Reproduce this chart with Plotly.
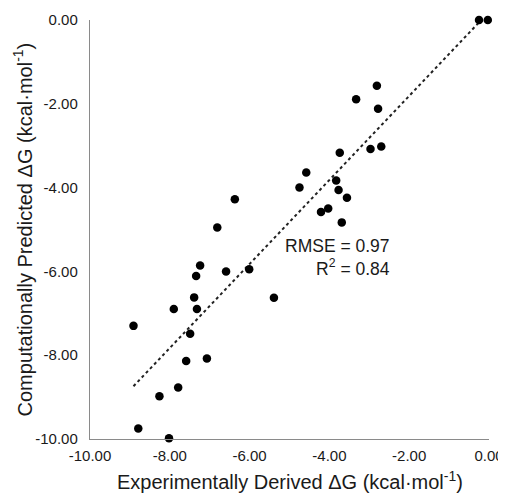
import numpy as np
import plotly.graph_objects as go

# Experimentally derived dG (kcal/mol) vs computationally predicted dG
exp_dg = [-0.25, -0.03, -2.81, -3.33, -2.78, -3.74, -2.97, -2.70, -4.58, -4.75,
          -3.83, -3.77, -3.56, -4.21, -4.03, -3.69, -5.39, -8.91, -7.90, -7.34,
          -7.24, -7.39, -7.32, -7.49, -7.59, -7.79, -8.26, -8.79, -8.02, -7.07,
          -6.37, -6.81, -6.59, -6.01]
pred_dg = [0.00, 0.00, -1.57, -1.89, -2.12, -3.17, -3.08, -3.02, -3.64, -4.00,
           -3.83, -4.06, -4.24, -4.58, -4.50, -4.83, -6.63, -7.30, -6.90, -6.11,
           -5.86, -6.62, -6.90, -7.49, -8.14, -8.77, -8.98, -9.75, -9.98, -8.08,
           -4.28, -4.95, -6.00, -5.95]

tick_vals = [-10, -8, -6, -4, -2, 0]
tick_text = ["-10.00", "-8.00", "-6.00", "-4.00", "-2.00", "0.00"]

x_title = "Experimentally Derived ΔG (kcal·mol<sup>-1</sup>)"
y_title = "Computationally Predicted ΔG (kcal·mol<sup>-1</sup>)"
stats_text = "RMSE = 0.97<br>R<sup>2</sup> = 0.84"

# Linear trendline (least squares) over the data range
slope, intercept = np.polyfit(exp_dg, pred_dg, 1)
fit_x = np.array([min(exp_dg), max(exp_dg)])
fit_y = slope * fit_x + intercept

FONT = "Liberation Sans, Arial, Helvetica, sans-serif"
TXT = "#1a1a1a"

fig = go.Figure()
fig.add_trace(go.Scatter(
    x=fit_x, y=fit_y, mode="lines",
    line=dict(color="#222222", width=2, dash="dot"),
    showlegend=False, hoverinfo="skip",
))
fig.add_trace(go.Scatter(
    x=exp_dg, y=pred_dg, mode="markers",
    marker=dict(color="black", size=8.5),
    cliponaxis=False, showlegend=False,
))

fig.add_annotation(
    x=-2.43, y=-5.68, xref="x", yref="y",
    text=stats_text, showarrow=False,
    xanchor="right", yanchor="middle", align="right",
    font=dict(family=FONT, size=17.5, color=TXT),
)
# axis titles
fig.add_annotation(
    x=0.5, y=-0.100, xref="paper", yref="paper",
    text=x_title, showarrow=False, xanchor="center", yanchor="middle",
    font=dict(family=FONT, size=20, color=TXT),
)
fig.add_annotation(
    x=-0.168, y=0.5, xref="paper", yref="paper",
    text=y_title, showarrow=False, xanchor="center", yanchor="middle",
    textangle=-90,
    font=dict(family=FONT, size=20, color=TXT),
)

axis_common = dict(
    range=[-10, 0], tickvals=tick_vals, ticktext=tick_text,
    showgrid=False, zeroline=False, showline=True,
    linecolor="#8a8a8a", linewidth=1.4, ticks="",
    automargin=False,
    tickfont=dict(family=FONT, size=15, color=TXT),
)

# The page body adds an 8px offset, so the figure is sized 8px smaller
fig.update_layout(
    width=498, height=485,
    margin=dict(l=82, r=17, t=12, b=54),
    paper_bgcolor="white", plot_bgcolor="white",
    font=dict(family=FONT, color=TXT),
    xaxis=dict(**axis_common, ticklabelstandoff=3),
    yaxis=dict(**axis_common, ticklabelstandoff=8),
)

fig.write_html("out.html")
